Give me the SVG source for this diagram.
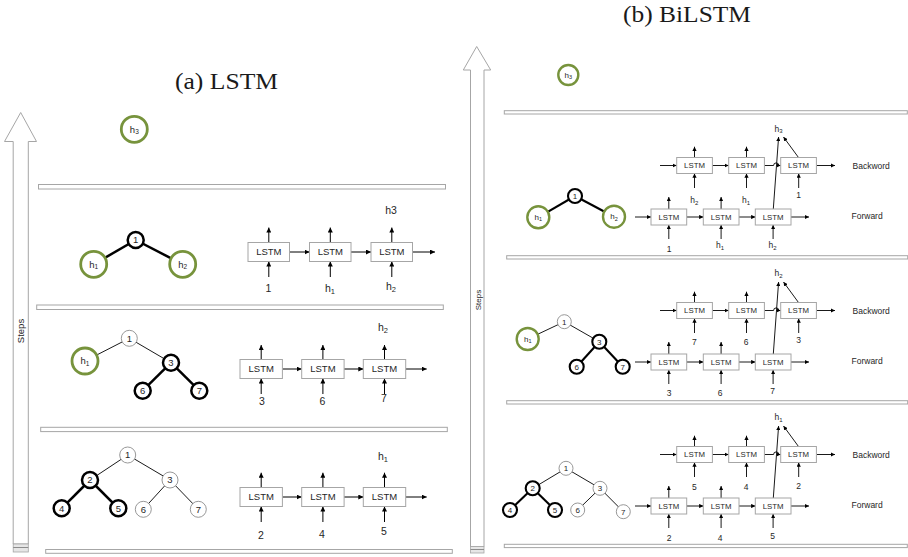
<svg xmlns="http://www.w3.org/2000/svg" width="908" height="557" viewBox="0 0 908 557">
  <defs>
    <marker id="ah" viewBox="0 0 10 10" refX="10" refY="5" markerWidth="5" markerHeight="5" orient="auto" markerUnits="userSpaceOnUse">
      <path d="M0,0 L10,5 L0,10 z" fill="#000"/>
    </marker>
    <marker id="ahs" viewBox="0 0 10 10" refX="10" refY="5" markerWidth="4.2" markerHeight="4.2" orient="auto" markerUnits="userSpaceOnUse">
      <path d="M0,0 L10,5 L0,10 z" fill="#000"/>
    </marker>
  </defs>
  <style>
    .title { font-family: "Liberation Serif", "DejaVu Serif", serif; font-size: 23px; fill: #1a1a1a; }
    .sans { font-family: "Liberation Sans", Arial, sans-serif; fill: #262626; }
    .steps { stroke: #a6a6a6; stroke-width: 1; fill: #fff; }
    .bar { stroke: #a6a6a6; stroke-width: 1; fill: #fff; }
    .box { stroke: #a6a6a6; stroke-width: 1; fill: #fff; }
    .green { stroke: #77933c; stroke-width: 2.8; fill: #fff; }
    .greenb { stroke: #77933c; stroke-width: 2.4; fill: #fff; }
    .thick { stroke: #000; stroke-width: 2.5; fill: #fff; }
    .thickb { stroke: #000; stroke-width: 2.1; fill: #fff; }
    .thin { stroke: #8c8c8c; stroke-width: 0.9; fill: #fff; }
    .e-thick { stroke: #000; stroke-width: 2.5; }
    .e-thickb { stroke: #000; stroke-width: 2.1; }
    .e-thin { stroke: #000; stroke-width: 0.9; }
    .arr { stroke: #000; stroke-width: 1; fill: none; marker-end: url(#ah); }
    .arrb { stroke: #000; stroke-width: 0.9; fill: none; marker-end: url(#ahs); }
    .lbl { font-size: 10.5px; text-anchor: middle; }
    .lblb { font-size: 8.5px; text-anchor: middle; }
    .nlbl { font-size: 9.5px; text-anchor: middle; }
    .nlblb { font-size: 8px; text-anchor: middle; }
    .lstm { font-size: 9.5px; text-anchor: middle; }
    .lstmb { font-size: 7.8px; text-anchor: middle; }
    .dir { font-size: 8.5px; }
  </style>

  <rect width="908" height="557" fill="#fff"/>

  <!-- titles -->
  <text class="title" x="175" y="89" textLength="103" lengthAdjust="spacingAndGlyphs">(a) LSTM</text>
  <text class="title" x="623" y="21.5" textLength="128" lengthAdjust="spacingAndGlyphs">(b) BiLSTM</text>

  <!-- step axes -->
  <g id="steps-a">
    <polygon class="steps" points="20.7,112.5 36.5,141.5 28.3,141.5 28.3,544 13.2,544 13.2,141.5 4.5,141.5"/>
    <rect x="13.2" y="544" width="15.1" height="8" fill="#e6e6e6" stroke="#a6a6a6" stroke-width="0.8"/>
    <line x1="13.2" y1="547.5" x2="28.3" y2="547.5" stroke="#8c8c8c" stroke-width="1"/>
    <text class="sans" font-size="9.5" text-anchor="middle" transform="translate(24,331) rotate(-90)">Steps</text>
  </g>
  <g id="steps-b">
    <polygon class="steps" points="476.7,46.5 490.7,70 484,70 484,546.5 470.5,546.5 470.5,70 463.3,70"/>
    <rect x="470.5" y="546.5" width="13.5" height="6.5" fill="#e6e6e6" stroke="#a6a6a6" stroke-width="0.8"/>
    <line x1="470.5" y1="549.5" x2="484" y2="549.5" stroke="#8c8c8c" stroke-width="1"/>
    <text class="sans" font-size="8" text-anchor="middle" transform="translate(481,300) rotate(-90)">Steps</text>
  </g>

  <!-- separators -->
  <g id="bars">
    <rect class="bar" x="38.5" y="184.5" width="407" height="4.5"/>
    <rect class="bar" x="36.7" y="305" width="406.6" height="4.5"/>
    <rect class="bar" x="40.7" y="427.3" width="406.6" height="4.3"/>
    <rect class="bar" x="45.7" y="549.5" width="406.6" height="3.8"/>
    <rect class="bar" x="504.3" y="110.7" width="403" height="3.3"/>
    <rect class="bar" x="506.7" y="255.7" width="401" height="3.3"/>
    <rect class="bar" x="506.7" y="400.7" width="401" height="3.3"/>
    <rect class="bar" x="504.3" y="544.3" width="403" height="3.3"/>
  </g>

  <!-- connectors -->
  <g id="connectors">
    <!-- (a) tree edges -->
    <line class="e-thick" x1="135.7" y1="240" x2="93.7" y2="264.3"/>
    <line class="e-thick" x1="135.7" y1="240" x2="182.7" y2="264.3"/>
    <line class="e-thin" x1="129.3" y1="338.3" x2="85" y2="361"/>
    <line class="e-thin" x1="129.3" y1="338.3" x2="171" y2="362.7"/>
    <line class="e-thick" x1="171" y1="362.7" x2="142.7" y2="390.7"/>
    <line class="e-thick" x1="171" y1="362.7" x2="199.3" y2="390.7"/>
    <line class="e-thin" x1="127.7" y1="455" x2="90" y2="480"/>
    <line class="e-thin" x1="127.7" y1="455" x2="170" y2="480"/>
    <line class="e-thick" x1="90" y1="480" x2="61.7" y2="508.3"/>
    <line class="e-thick" x1="90" y1="480" x2="118.3" y2="508.3"/>
    <line class="e-thin" x1="170" y1="480" x2="143.3" y2="509.3"/>
    <line class="e-thin" x1="170" y1="480" x2="198.3" y2="509.3"/>

    <!-- (a) LSTM chain, top row -->
    <path class="arr" d="M268.8,242.5 V227.5"/>
    <path class="arr" d="M330.3,242.5 V227.5"/>
    <path class="arr" d="M391.8,242.5 V227.5"/>
    <path class="arr" d="M268.8,277 V261.5"/>
    <path class="arr" d="M330.3,277 V261.5"/>
    <path class="arr" d="M391.8,277 V261.5"/>
    <path class="arr" d="M289.5,252 H309.5"/>
    <path class="arr" d="M351,252 H371"/>
    <path class="arr" d="M412.5,252 H435"/>
    <!-- (a) LSTM chain, middle row -->
    <path class="arr" d="M261.2,359.5 V345"/>
    <path class="arr" d="M322.9,359.5 V345"/>
    <path class="arr" d="M384.5,359.5 V345"/>
    <path class="arr" d="M261.2,394 V378.5"/>
    <path class="arr" d="M322.9,394 V378.5"/>
    <path class="arr" d="M384.5,394 V378.5"/>
    <path class="arr" d="M282.4,369 H301.7"/>
    <path class="arr" d="M344.1,369 H363.3"/>
    <path class="arr" d="M405.7,369 H426.7"/>
    <!-- (a) LSTM chain, bottom row -->
    <path class="arr" d="M261.2,487.5 V472.7"/>
    <path class="arr" d="M322.9,487.5 V472.7"/>
    <path class="arr" d="M384.5,487.5 V472.7"/>
    <path class="arr" d="M261.2,522 V506.5"/>
    <path class="arr" d="M322.9,522 V506.5"/>
    <path class="arr" d="M384.5,522 V506.5"/>
    <path class="arr" d="M282.4,497 H301.7"/>
    <path class="arr" d="M344.1,497 H363.3"/>
    <path class="arr" d="M405.7,497 H426.7"/>

    <!-- (b) tree edges -->
    <line class="e-thickb" x1="575" y1="196" x2="538.3" y2="217.3"/>
    <line class="e-thickb" x1="575" y1="196" x2="614" y2="216.7"/>
    <line class="e-thin" x1="564.3" y1="321.7" x2="527.7" y2="339"/>
    <line class="e-thin" x1="564.3" y1="321.7" x2="599.3" y2="341.7"/>
    <line class="e-thickb" x1="599.3" y1="341.7" x2="576.7" y2="366.7"/>
    <line class="e-thickb" x1="599.3" y1="341.7" x2="622.7" y2="366.7"/>
    <line class="e-thin" x1="566" y1="468.3" x2="532.7" y2="488.3"/>
    <line class="e-thin" x1="566" y1="468.3" x2="600" y2="488.3"/>
    <line class="e-thickb" x1="532.7" y1="488.3" x2="510" y2="510"/>
    <line class="e-thickb" x1="532.7" y1="488.3" x2="555" y2="510"/>
    <line class="e-thin" x1="600" y1="488.3" x2="577.7" y2="510"/>
    <line class="e-thin" x1="600" y1="488.3" x2="623.3" y2="511.7"/>

    <!-- (b) BiLSTM chains, one set per step (shifted copies) -->
    <g id="bi-chain-3">
      <!-- forward -->
      <path class="arrb" d="M635,217 H651"/>
      <path class="arrb" d="M686.7,217 H703.3"/>
      <path class="arrb" d="M739,217 H755.3"/>
      <path class="arrb" d="M791,217 H809"/>
      <path class="arrb" d="M668.8,209 V197"/>
      <path class="arrb" d="M721.1,209 V197"/>
      <path class="arrb" d="M668.8,239 V225"/>
      <path class="arrb" d="M721.1,239 V225"/>
      <path class="arrb" d="M773.1,239 V225"/>
      <path class="arrb" d="M773.3,209 L778.6,137"/>
      <!-- backward -->
      <path class="arrb" d="M660,165.5 H676.7"/>
      <path class="arrb" d="M712.3,165.5 H728.7"/>
      <path class="arrb" d="M764.3,165.5 H773.6 A2.6,2.6 0 0 1 778.8,165.5 H780.7"/>
      <path class="arrb" d="M816.7,165.5 H835"/>
      <path class="arrb" d="M694.5,157.5 V146.7"/>
      <path class="arrb" d="M746.5,157.5 V146.7"/>
      <path class="arrb" d="M694.5,188 V173.5"/>
      <path class="arrb" d="M746.5,188 V173.5"/>
      <path class="arrb" d="M798.7,188 V173.5"/>
      <path class="arrb" d="M798.5,157.5 L783.5,137"/>
    </g>
    <use href="#bi-chain-3" transform="translate(0,145)"/>
    <use href="#bi-chain-3" transform="translate(0,289)"/>
  </g>

  <!-- (a) LSTM nodes -->
  <g id="a-top-h3"><circle class="green" cx="134.3" cy="129.3" r="13"/><text class="sans nlbl" x="134.3" y="132.5">h<tspan font-size="6.5" dy="1.5">3</tspan></text></g>

  <g id="a3-n1"><circle class="thick" cx="135.7" cy="240" r="8"/><text class="sans nlbl" x="135.7" y="243.3">1</text></g>
  <g id="a3-h1"><circle class="green" cx="93.7" cy="264.3" r="13"/><text class="sans nlbl" x="93.7" y="267.5">h<tspan font-size="6.5" dy="1.5">1</tspan></text></g>
  <g id="a3-h2"><circle class="green" cx="182.7" cy="264.3" r="13"/><text class="sans nlbl" x="182.7" y="267.5">h<tspan font-size="6.5" dy="1.5">2</tspan></text></g>

  <g id="a2-n1"><circle class="thin" cx="129.3" cy="338.3" r="8"/><text class="sans nlbl" x="129.3" y="341.6">1</text></g>
  <g id="a2-h1"><circle class="green" cx="85" cy="361" r="13"/><text class="sans nlbl" x="85" y="364.2">h<tspan font-size="6.5" dy="1.5">1</tspan></text></g>
  <g id="a2-n3"><circle class="thick" cx="171" cy="362.7" r="8"/><text class="sans nlbl" x="171" y="366">3</text></g>
  <g id="a2-n6"><circle class="thick" cx="142.7" cy="390.7" r="8"/><text class="sans nlbl" x="142.7" y="394">6</text></g>
  <g id="a2-n7"><circle class="thick" cx="199.3" cy="390.7" r="8"/><text class="sans nlbl" x="199.3" y="394">7</text></g>

  <g id="a1-n1"><circle class="thin" cx="127.7" cy="455" r="8"/><text class="sans nlbl" x="127.7" y="458.3">1</text></g>
  <g id="a1-n2"><circle class="thick" cx="90" cy="480" r="8"/><text class="sans nlbl" x="90" y="483.3">2</text></g>
  <g id="a1-n3"><circle class="thin" cx="170" cy="480" r="8"/><text class="sans nlbl" x="170" y="483.3">3</text></g>
  <g id="a1-n4"><circle class="thick" cx="61.7" cy="508.3" r="8"/><text class="sans nlbl" x="61.7" y="511.6">4</text></g>
  <g id="a1-n5"><circle class="thick" cx="118.3" cy="508.3" r="8"/><text class="sans nlbl" x="118.3" y="511.6">5</text></g>
  <g id="a1-n6"><circle class="thin" cx="143.3" cy="509.3" r="8"/><text class="sans nlbl" x="143.3" y="512.6">6</text></g>
  <g id="a1-n7"><circle class="thin" cx="198.3" cy="509.3" r="8"/><text class="sans nlbl" x="198.3" y="512.6">7</text></g>

  <!-- (a) LSTM cells -->
  <g id="a3-cells">
    <rect class="box" x="248" y="242.5" width="41.5" height="19"/><text class="sans lstm" x="268.8" y="255.4">LSTM</text>
    <rect class="box" x="309.5" y="242.5" width="41.5" height="19"/><text class="sans lstm" x="330.3" y="255.4">LSTM</text>
    <rect class="box" x="371" y="242.5" width="41.5" height="19"/><text class="sans lstm" x="391.8" y="255.4">LSTM</text>
    <text class="sans lbl" x="268.5" y="291.5">1</text>
    <text class="sans lbl" x="330" y="292">h<tspan font-size="7.5" dy="2">1</tspan></text>
    <text class="sans lbl" x="391" y="289.5">h<tspan font-size="7.5" dy="2">2</tspan></text>
    <text class="sans lbl" x="391" y="213.5">h3</text>
  </g>
  <g id="a2-cells">
    <rect class="box" x="240" y="359.5" width="42.4" height="19"/><text class="sans lstm" x="261.2" y="372.4">LSTM</text>
    <rect class="box" x="301.7" y="359.5" width="42.4" height="19"/><text class="sans lstm" x="322.9" y="372.4">LSTM</text>
    <rect class="box" x="363.3" y="359.5" width="42.4" height="19"/><text class="sans lstm" x="384.5" y="372.4">LSTM</text>
    <text class="sans lbl" x="262" y="405">3</text>
    <text class="sans lbl" x="322.5" y="405">6</text>
    <text class="sans lbl" x="384" y="401.5">7</text>
    <text class="sans lbl" x="383" y="331">h<tspan font-size="7.5" dy="2">2</tspan></text>
  </g>
  <g id="a1-cells">
    <rect class="box" x="240" y="487.5" width="42.4" height="19"/><text class="sans lstm" x="261.2" y="500.4">LSTM</text>
    <rect class="box" x="301.7" y="487.5" width="42.4" height="19"/><text class="sans lstm" x="322.9" y="500.4">LSTM</text>
    <rect class="box" x="363.3" y="487.5" width="42.4" height="19"/><text class="sans lstm" x="384.5" y="500.4">LSTM</text>
    <text class="sans lbl" x="261" y="538.5">2</text>
    <text class="sans lbl" x="322" y="538">4</text>
    <text class="sans lbl" x="384" y="534.5">5</text>
    <text class="sans lbl" x="383" y="459.5">h<tspan font-size="7.5" dy="2">1</tspan></text>
  </g>

  <!-- (b) BiLSTM nodes -->
  <g id="b-top-h3"><circle class="greenb" cx="568.3" cy="75" r="10"/><text class="sans nlblb" x="568.3" y="77.6">h<tspan font-size="5.5" dy="1.3">3</tspan></text></g>

  <g id="b3-n1"><circle class="thickb" cx="575" cy="196" r="7"/><text class="sans nlblb" x="575" y="198.8">1</text></g>
  <g id="b3-h1"><circle class="greenb" cx="538.3" cy="217.3" r="11"/><text class="sans nlblb" x="538.3" y="220">h<tspan font-size="5.5" dy="1.3">1</tspan></text></g>
  <g id="b3-h2"><circle class="greenb" cx="614" cy="216.7" r="11"/><text class="sans nlblb" x="614" y="219.4">h<tspan font-size="5.5" dy="1.3">2</tspan></text></g>

  <g id="b2-n1"><circle class="thin" cx="564.3" cy="321.7" r="7"/><text class="sans nlblb" x="564.3" y="324.5">1</text></g>
  <g id="b2-h1"><circle class="greenb" cx="527.7" cy="339" r="11"/><text class="sans nlblb" x="527.7" y="341.7">h<tspan font-size="5.5" dy="1.3">1</tspan></text></g>
  <g id="b2-n3"><circle class="thickb" cx="599.3" cy="341.7" r="7"/><text class="sans nlblb" x="599.3" y="344.5">3</text></g>
  <g id="b2-n6"><circle class="thickb" cx="576.7" cy="366.7" r="7"/><text class="sans nlblb" x="576.7" y="369.5">6</text></g>
  <g id="b2-n7"><circle class="thickb" cx="622.7" cy="366.7" r="7"/><text class="sans nlblb" x="622.7" y="369.5">7</text></g>

  <g id="b1-n1"><circle class="thin" cx="566" cy="468.3" r="7"/><text class="sans nlblb" x="566" y="471.1">1</text></g>
  <g id="b1-n2"><circle class="thickb" cx="532.7" cy="488.3" r="7"/><text class="sans nlblb" x="532.7" y="491.1">2</text></g>
  <g id="b1-n3"><circle class="thin" cx="600" cy="488.3" r="7"/><text class="sans nlblb" x="600" y="491.1">3</text></g>
  <g id="b1-n4"><circle class="thickb" cx="510" cy="510" r="7"/><text class="sans nlblb" x="510" y="512.8">4</text></g>
  <g id="b1-n5"><circle class="thickb" cx="555" cy="510" r="7"/><text class="sans nlblb" x="555" y="512.8">5</text></g>
  <g id="b1-n6"><circle class="thin" cx="577.7" cy="510" r="7"/><text class="sans nlblb" x="577.7" y="512.8">6</text></g>
  <g id="b1-n7"><circle class="thin" cx="623.3" cy="511.7" r="7"/><text class="sans nlblb" x="623.3" y="514.5">7</text></g>

  <!-- (b) BiLSTM cells: same geometry per step -->
  <defs>
    <g id="bi-cells">
      <rect class="box" x="651" y="209" width="35.7" height="16"/><text class="sans lstmb" x="668.8" y="219.8">LSTM</text>
      <rect class="box" x="703.3" y="209" width="35.7" height="16"/><text class="sans lstmb" x="721.1" y="219.8">LSTM</text>
      <rect class="box" x="755.3" y="209" width="35.7" height="16"/><text class="sans lstmb" x="773.1" y="219.8">LSTM</text>
      <rect class="box" x="676.7" y="157.5" width="35.7" height="16"/><text class="sans lstmb" x="694.5" y="168.3">LSTM</text>
      <rect class="box" x="728.7" y="157.5" width="35.7" height="16"/><text class="sans lstmb" x="746.5" y="168.3">LSTM</text>
      <rect class="box" x="780.7" y="157.5" width="35.7" height="16"/><text class="sans lstmb" x="798.5" y="168.3">LSTM</text>
      <text class="sans dir" x="852.5" y="169">Backword</text>
      <text class="sans dir" x="851.5" y="219">Forward</text>
    </g>
  </defs>
  <g id="b3-cells">
    <use href="#bi-cells"/>
    <text class="sans lblb" x="669" y="251.5">1</text>
    <text class="sans lblb" x="720" y="248">h<tspan font-size="6" dy="1.8">1</tspan></text>
    <text class="sans lblb" x="772.5" y="248">h<tspan font-size="6" dy="1.8">2</tspan></text>
    <text class="sans lblb" x="694.3" y="203">h<tspan font-size="6" dy="1.8">2</tspan></text>
    <text class="sans lblb" x="746" y="203">h<tspan font-size="6" dy="1.8">1</tspan></text>
    <text class="sans lblb" x="798.5" y="198">1</text>
    <text class="sans lblb" x="778.5" y="131.5">h<tspan font-size="6" dy="1.8">3</tspan></text>
  </g>
  <g id="b2-cells">
    <use href="#bi-cells" transform="translate(0,145)"/>
    <text class="sans lblb" x="669" y="396">3</text>
    <text class="sans lblb" x="720" y="395.5">6</text>
    <text class="sans lblb" x="772.5" y="393.5">7</text>
    <text class="sans lblb" x="694.3" y="345">7</text>
    <text class="sans lblb" x="746" y="345">6</text>
    <text class="sans lblb" x="798.5" y="343">3</text>
    <text class="sans lblb" x="778.5" y="276">h<tspan font-size="6" dy="1.8">2</tspan></text>
  </g>
  <g id="b1-cells">
    <use href="#bi-cells" transform="translate(0,289)"/>
    <text class="sans lblb" x="669" y="540.5">2</text>
    <text class="sans lblb" x="720" y="540.5">4</text>
    <text class="sans lblb" x="772.5" y="539">5</text>
    <text class="sans lblb" x="694.3" y="489.5">5</text>
    <text class="sans lblb" x="746" y="489.5">4</text>
    <text class="sans lblb" x="798.5" y="488.5">2</text>
    <text class="sans lblb" x="778.5" y="420">h<tspan font-size="6" dy="1.8">1</tspan></text>
  </g>
</svg>
